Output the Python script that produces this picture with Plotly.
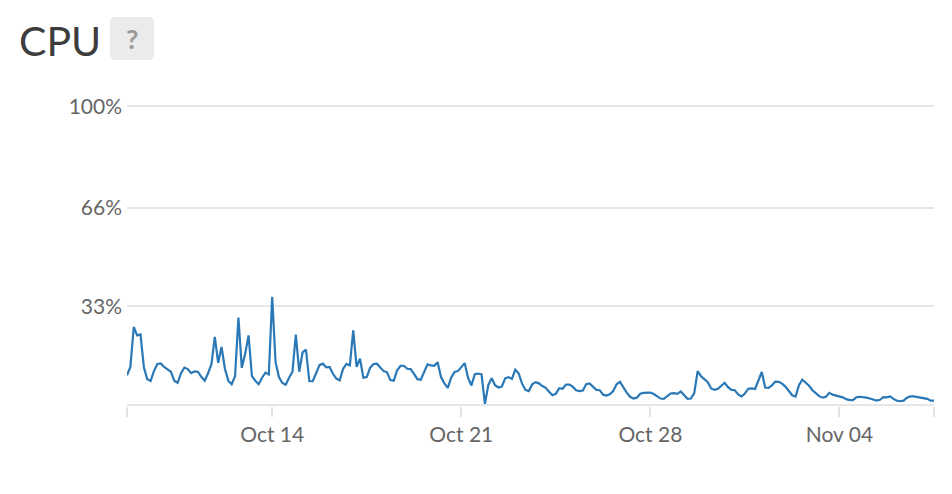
import pandas as pd
import plotly.graph_objects as go

# ---- data ----
start_time = "2018-10-08 15:00"
end_time = "2018-11-07 12:00"
step = "3h"
cpu_pct = [
    9.8, 12.6, 26.0, 23.2, 23.5, 12.5, 8.5, 7.9, 11.3, 13.6,
    13.8, 12.6, 11.8, 11.0, 8.0, 7.3, 10.5, 12.4, 11.9, 10.5,
    11.1, 11.0, 9.3, 8.0, 10.5, 13.5, 22.7, 14.0, 19.3, 12.0,
    8.0, 6.8, 9.5, 29.2, 12.3, 17.0, 23.2, 9.5, 8.0, 6.8,
    9.0, 10.7, 10.1, 36.1, 14.2, 9.2, 7.2, 6.6, 9.0, 11.0,
    23.5, 11.0, 17.5, 18.4, 7.8, 7.8, 10.5, 13.2, 13.7, 12.5,
    12.6, 10.3, 8.7, 8.1, 12.0, 13.6, 13.1, 24.9, 12.6, 15.4,
    9.0, 9.2, 12.3, 13.6, 13.7, 12.5, 11.2, 10.8, 8.2, 8.0,
    11.5, 13.0, 13.0, 12.0, 11.9, 10.3, 8.5, 8.3, 10.8, 13.5,
    13.1, 13.0, 14.2, 9.2, 7.1, 5.6, 9.0, 10.9, 11.2, 12.5,
    13.9, 9.0, 6.4, 10.2, 10.4, 10.1, 0.2, 6.5, 8.8, 6.5,
    5.7, 6.0, 8.8, 9.2, 8.6, 11.7, 10.4, 7.0, 4.9, 4.5,
    6.8, 7.5, 7.1, 6.2, 5.6, 4.3, 3.1, 3.6, 5.5, 5.3,
    6.7, 6.7, 6.0, 4.8, 4.5, 4.7, 6.8, 7.1, 6.0, 4.9,
    4.8, 3.3, 3.0, 3.4, 4.5, 6.8, 7.6, 5.7, 4.0, 2.6,
    2.0, 2.3, 3.6, 3.9, 4.0, 4.0, 3.5, 2.7, 2.0, 1.9,
    2.8, 3.7, 3.8, 3.6, 4.4, 3.3, 1.9, 2.0, 3.8, 11.2,
    9.5, 8.5, 7.5, 5.4, 4.9, 5.3, 6.2, 7.3, 5.8, 4.9,
    4.8, 3.4, 2.7, 3.7, 5.3, 5.4, 5.2, 8.0, 10.9, 5.7,
    5.6, 6.4, 7.7, 7.6, 7.0, 6.0, 4.5, 3.1, 2.7, 6.5,
    8.3, 7.4, 6.3, 4.8, 3.9, 2.8, 2.3, 2.6, 3.9, 3.3,
    3.0, 2.8, 2.4, 1.8, 1.5, 1.5, 2.4, 2.6, 2.5, 2.3,
    2.0, 1.7, 1.3, 1.6, 2.5, 2.4, 2.7, 1.9, 1.3, 1.1,
    1.3, 2.3, 2.7, 2.7, 2.5, 2.3, 2.1, 1.9, 1.3, 1.3,
]
times = pd.date_range(start_time, periods=len(cpu_pct), freq=step)

x_tick_vals = [start_time, "2018-10-14", "2018-10-21", "2018-10-28", "2018-11-04", end_time]
x_tick_text = ["", "Oct 14", "Oct 21", "Oct 28", "Nov 04", ""]
y_tick_vals = [0, 33, 66, 100]
y_tick_text = ["", "33%", "66%", "100%"]
y_range = [-0.5, 100.5]
title_text = "CPU"
help_text = "?"

FONT = "Lato"
# figure sits 8px inside the page (default body margin)
W, H = 944, 486
ML, MR, MT, MB = 119, 18, 97, 88
PW, PH = W - ML - MR, H - MT - MB


def px(x):
    return (x - ML) / PW


def py(y):
    return (H - MB - y) / PH


fig = go.Figure()
fig.add_trace(go.Scatter(
    x=times, y=cpu_pct, mode="lines",
    line=dict(color="#2a78b6", width=2.2),
    hoverinfo="skip",
))

# help badge with rounded corners (figure pixel coords)
bx0, bx1, by0, by1, r = 102, 146, 9, 52, 5
path = (
    f"M {px(bx0 + r)} {py(by0)} L {px(bx1 - r)} {py(by0)} "
    f"Q {px(bx1)} {py(by0)} {px(bx1)} {py(by0 + r)} "
    f"L {px(bx1)} {py(by1 - r)} Q {px(bx1)} {py(by1)} {px(bx1 - r)} {py(by1)} "
    f"L {px(bx0 + r)} {py(by1)} Q {px(bx0)} {py(by1)} {px(bx0)} {py(by1 - r)} "
    f"L {px(bx0)} {py(by0 + r)} Q {px(bx0)} {py(by0)} {px(bx0 + r)} {py(by0)} Z"
)
fig.add_shape(type="path", path=path, xref="paper", yref="paper",
              fillcolor="#ebebeb", line=dict(width=0), layer="above")

fig.add_annotation(text=title_text, xref="paper", yref="paper",
                   x=px(9), y=py(32), xanchor="left", yanchor="middle",
                   showarrow=False, font=dict(family=FONT, size=41, color="#3d3d3d"))
fig.add_annotation(text="<b>" + help_text + "</b>", xref="paper", yref="paper",
                   x=px(124), y=py(31), xanchor="center", yanchor="middle",
                   showarrow=False, font=dict(family=FONT, size=27, color="#9a9a9a"))

fig.update_layout(
    width=W, height=H,
    margin=dict(l=ML, r=MR, t=MT, b=MB, pad=0),
    paper_bgcolor="white", plot_bgcolor="white",
    showlegend=False,
    font=dict(family=FONT, color="#666666", size=21),
    xaxis=dict(
        type="date", range=[start_time, end_time],
        tickvals=x_tick_vals, ticktext=x_tick_text,
        showgrid=False, zeroline=False, showline=False,
        ticks="outside", ticklen=10, tickwidth=2, tickcolor="#e3e3e3",
        tickfont=dict(family=FONT, size=21, color="#666666"),
    ),
    yaxis=dict(
        range=y_range, tickvals=y_tick_vals, ticktext=y_tick_text,
        showgrid=True, gridcolor="#e6e6e6", gridwidth=2,
        zeroline=False, showline=False, ticks="",
        ticklabelstandoff=4,
        tickfont=dict(family=FONT, size=21, color="#666666"),
    ),
)

fig.write_html("out.html")
